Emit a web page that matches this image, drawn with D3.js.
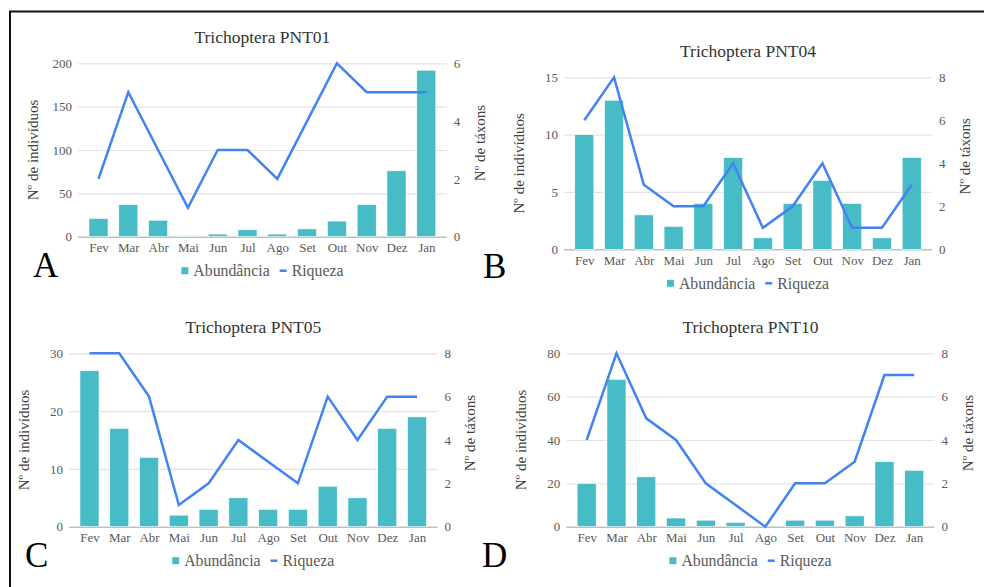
<!DOCTYPE html>
<html>
<head>
<meta charset="utf-8">
<script src="https://cdn.jsdelivr.net/npm/d3@7"></script>
<style>
  html, body { margin: 0; padding: 0; background: #fff; }
  svg { display: block; }
  svg text { font-family: "Liberation Serif", "Times New Roman", serif !important; }
</style>
</head>
<body>
<svg id="chart" width="984" height="587" font-family="Liberation Serif"></svg>
<script>
// ---------- DATA ----------
const months = ["Fev","Mar","Abr","Mai","Jun","Jul","Ago","Set","Out","Nov","Dez","Jan"];
const titles = ["Trichoptera PNT01","Trichoptera PNT04","Trichoptera PNT05","Trichoptera PNT10"];
const panelLetters = ["A","B","C","D"];
const seriesNames = ["Abundância","Riqueza"];
const leftAxisTitle = "Nº de indivíduos";
const rightAxisTitle = "Nº de táxons";

const abundPNT01 = [21, 37, 19, 1, 3, 8, 3, 9, 18, 37, 76, 192];
const riqPNT01   = [2, 5, 3, 1, 3, 3, 2, 4, 6, 5, 5, 5];
const abundPNT04 = [10, 13, 3, 2, 4, 8, 1, 4, 6, 4, 1, 8];
const riqPNT04   = [6, 8, 3, 2, 2, 4, 1, 2, 4, 1, 1, 3];
const abundPNT05 = [27, 17, 12, 2, 3, 5, 3, 3, 7, 5, 17, 19];
const riqPNT05   = [8, 8, 6, 1, 2, 4, 3, 2, 6, 4, 6, 6];
const abundPNT10 = [20, 68, 23, 4, 3, 2, 0, 3, 3, 5, 30, 26];
const riqPNT10   = [4, 8, 5, 4, 2, 1, 0, 2, 2, 3, 7, 7];

const leftTicks01 = [0, 50, 100, 150, 200];
const leftTicks04 = [0, 5, 10, 15];
const leftTicks05 = [0, 10, 20, 30];
const leftTicks10 = [0, 20, 40, 60, 80];
const rightTicks01 = [0, 2, 4, 6];
const rightTicks04 = [0, 2, 4, 6, 8];
const rightTicks05 = [0, 2, 4, 6, 8];
const rightTicks10 = [0, 2, 4, 6, 8];

// ---------- LAYOUT ----------
const panels = [
  { abund: abundPNT01, riq: riqPNT01, lt: leftTicks01, rt: rightTicks01,
    band: [83.6, 441.2], top: 63.3, bottom: 236.7, letterX: 33, letterY: 277 },
  { abund: abundPNT04, riq: riqPNT04, lt: leftTicks04, rt: rightTicks04,
    band: [569.4, 926.6], top: 77.3, bottom: 249.3, letterX: 483, letterY: 278 },
  { abund: abundPNT05, riq: riqPNT05, lt: leftTicks05, rt: rightTicks05,
    band: [74.6, 431.9], top: 353.3, bottom: 526.7, letterX: 25, letterY: 567 },
  { abund: abundPNT10, riq: riqPNT10, lt: leftTicks10, rt: rightTicks10,
    band: [571.8, 929.1], top: 353.3, bottom: 526.7, letterX: 482, letterY: 567 }
];

const FONT = "Liberation Serif";
const barColor = "#48BCC6";
const lineColor = "#4283F2";
const gridColor = "#E3E3E3";
const baseColor = "#BFBFBF";
const tickColor = "#595959";
const titleColor = "#404040";
const fmt = d3.format("d");

const svg = d3.select("#chart");

// outer frame
svg.append("rect")
  .attr("x", 10).attr("y", 11.5)
  .attr("width", 984).attr("height", 587)
  .attr("fill", "none").attr("stroke", "#111").attr("stroke-width", 2);

panels.forEach((p, i) => {
  const g = svg.append("g");
  const step = (p.band[1] - p.band[0]) / months.length;
  const xc = d3.scalePoint().domain(months).range([p.band[0] + step / 2, p.band[1] - step / 2]);
  const bw = step * 0.64;
  const gx0 = p.band[0] - 5.5, gx1 = p.band[1] + 5.5;
  const yL = d3.scaleLinear().domain([0, d3.max(p.lt)]).range([p.bottom, p.top]);
  const yR = d3.scaleLinear().domain([0, d3.max(p.rt)]).range([p.bottom, p.top]);

  // gridlines
  const gridAxis = d3.axisLeft(yL).tickValues(p.lt).tickSize(-(gx1 - gx0)).tickFormat("");
  const gg = g.append("g").attr("transform", `translate(${gx0},0)`).call(gridAxis);
  gg.select(".domain").remove();
  gg.selectAll(".tick line").attr("stroke", d => d === 0 ? baseColor : gridColor).attr("stroke-width", d => d === 0 ? 1.5 : 1.2);

  // left tick labels
  const la = d3.axisLeft(yL).tickValues(p.lt).tickSize(0).tickPadding(6).tickFormat(fmt);
  const lg = g.append("g").attr("transform", `translate(${gx0},0)`).call(la).attr("font-family", FONT);
  lg.select(".domain").remove();
  lg.selectAll("text").attr("font-family", FONT).attr("font-size", 13).attr("fill", tickColor);

  // right tick labels
  const ra = d3.axisRight(yR).tickValues(p.rt).tickSize(0).tickPadding(7).tickFormat(fmt);
  const rg = g.append("g").attr("transform", `translate(${gx1},0)`).call(ra).attr("font-family", FONT);
  rg.select(".domain").remove();
  rg.selectAll("text").attr("font-family", FONT).attr("font-size", 13).attr("fill", tickColor);

  // x labels
  const xa = d3.axisBottom(xc).tickSize(0).tickPadding(6);
  const xg = g.append("g").attr("transform", `translate(0,${p.bottom})`).call(xa).attr("font-family", FONT);
  xg.select(".domain").remove();
  xg.selectAll("text").attr("font-family", FONT).attr("font-size", 13).attr("fill", tickColor);

  // bars
  g.append("g").selectAll("rect").data(p.abund).join("rect")
    .attr("x", (d, j) => xc(months[j]) - bw / 2)
    .attr("width", bw)
    .attr("y", d => yL(d))
    .attr("height", d => p.bottom - yL(d))
    .attr("fill", barColor)
    .attr("stroke", "#fff").attr("stroke-width", 0.6);

  // line
  const line = d3.line().x((d, j) => xc(months[j])).y(d => yR(d));
  g.append("path").datum(p.riq)
    .attr("d", line)
    .attr("fill", "none").attr("stroke", lineColor).attr("stroke-width", 2.5)
    .attr("stroke-linejoin", "miter").attr("stroke-linecap", "butt");

  const cx = (p.band[0] + p.band[1]) / 2;
  // title
  g.append("text").attr("x", cx).attr("y", p.top - 20.5)
    .attr("text-anchor", "middle").attr("font-family", FONT).attr("font-size", 17.5).attr("fill", "#333")
    .text(titles[i]);

  // axis titles
  const lcy = (p.top + p.bottom) / 2;
  g.append("text")
    .attr("transform", `translate(${gx0 - 45},${lcy}) rotate(-90)`)
    .attr("text-anchor", "middle").attr("dominant-baseline", "central")
    .attr("font-family", FONT).attr("font-size", 15).attr("fill", titleColor)
    .text(leftAxisTitle);
  g.append("text")
    .attr("transform", `translate(${gx1 + 33},${lcy - 7}) rotate(-90)`)
    .attr("text-anchor", "middle").attr("dominant-baseline", "central")
    .attr("font-family", FONT).attr("font-size", 15).attr("fill", titleColor)
    .text(rightAxisTitle);

  // legend
  const ly = p.bottom + 34;
  const lgd = g.append("g").attr("font-family", FONT);
  const sq = lgd.append("rect").attr("width", 7).attr("height", 7).attr("y", ly - 3.5).attr("fill", barColor);
  const t1 = lgd.append("text").attr("y", ly).attr("dominant-baseline", "central")
    .attr("font-family", FONT).attr("font-size", 15.8).attr("fill", tickColor).text(seriesNames[0]);
  const w1 = t1.node().getComputedTextLength();
  const mk = lgd.append("line").attr("y1", ly).attr("y2", ly).attr("stroke", lineColor).attr("stroke-width", 2.5);
  const t2 = lgd.append("text").attr("y", ly).attr("dominant-baseline", "central")
    .attr("font-family", FONT).attr("font-size", 15.8).attr("fill", tickColor).text(seriesNames[1]);
  const w2 = t2.node().getComputedTextLength();
  const total = 7 + 5 + w1 + 10 + 7 + 5 + w2;
  let lx = cx - total / 2;
  sq.attr("x", lx); lx += 7 + 5;
  t1.attr("x", lx); lx += w1 + 10;
  mk.attr("x1", lx).attr("x2", lx + 7); lx += 7 + 5;
  t2.attr("x", lx);

  // panel letter
  svg.append("text").attr("x", p.letterX).attr("y", p.letterY)
    .attr("font-family", FONT).attr("font-size", 35).attr("fill", "#000")
    .text(panelLetters[i]);
});
</script>
</body>
</html>
